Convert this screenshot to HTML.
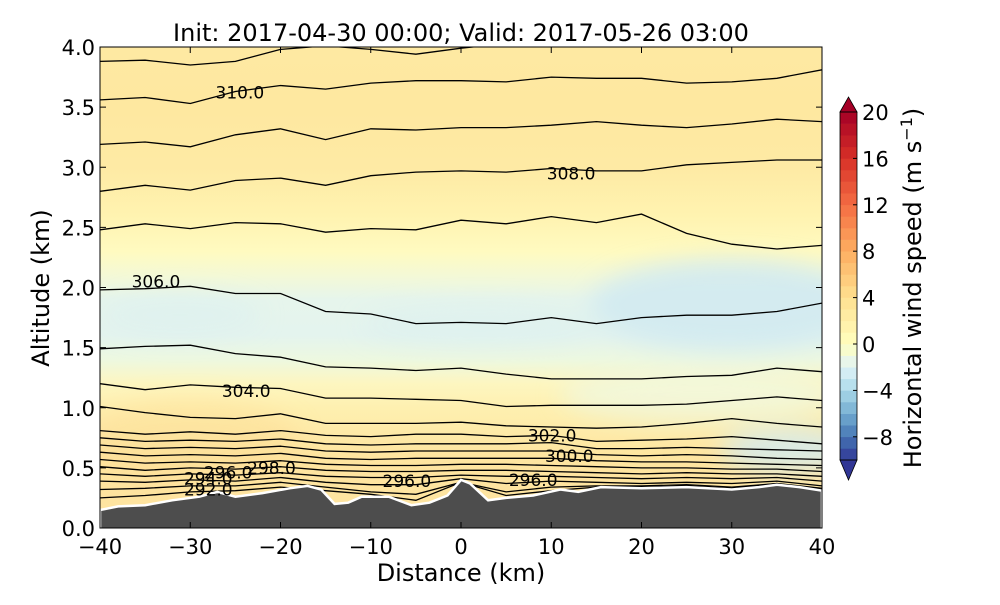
<!DOCTYPE html>
<html><head><meta charset="utf-8">
<style>
body{margin:0;background:#fff;width:1000px;height:600px;overflow:hidden}
svg{font-family:"DejaVu Sans","Liberation Sans",sans-serif}
</style></head>
<body>
<svg id="chart" width="1000" height="600" viewBox="0 0 1000 600">
<defs>
<linearGradient id="bg" x1="0" y1="47" x2="0" y2="528" gradientUnits="userSpaceOnUse">
<stop offset="0" stop-color="#fee9a2"/>
<stop offset="0.125" stop-color="#fee8a0"/>
<stop offset="0.25" stop-color="#feeaa4"/>
<stop offset="0.35" stop-color="#fff3b0"/>
<stop offset="0.425" stop-color="#fffac0"/>
<stop offset="0.475" stop-color="#f4f9d6"/>
<stop offset="0.525" stop-color="#e6f5ec"/>
<stop offset="0.6" stop-color="#e4f4ee"/>
<stop offset="0.65" stop-color="#edf8e0"/>
<stop offset="0.7" stop-color="#fdf6c0"/>
<stop offset="0.75" stop-color="#fef0b0"/>
<stop offset="0.85" stop-color="#fee5a0"/>
<stop offset="1" stop-color="#fee3a0"/>
</linearGradient>
<filter id="soft" x="-30%" y="-50%" width="160%" height="200%"><feGaussianBlur stdDeviation="12"/></filter>
<clipPath id="plotclip"><rect x="100" y="47" width="722" height="481"/></clipPath>
</defs>
<g clip-path="url(#plotclip)">
<rect x="100" y="47" width="722" height="481" fill="url(#bg)"/>
<g filter="url(#soft)">
<ellipse cx="730" cy="305" rx="140" ry="45" fill="#d2eaf1" opacity="0.9"/>
<ellipse cx="480" cy="325" rx="120" ry="20" fill="#dcf0f0" opacity="0.6"/>
<ellipse cx="180" cy="315" rx="80" ry="20" fill="#dcf0f0" opacity="0.6"/>
<ellipse cx="790" cy="450" rx="70" ry="22" fill="#d4ebf0" opacity="0.85"/>
<ellipse cx="700" cy="395" rx="140" ry="28" fill="#eef8e4" opacity="0.7"/>
<ellipse cx="190" cy="440" rx="110" ry="40" fill="#fddc94" opacity="0.45"/>
</g>
<g id="contours"></g>
<g id="terrain"></g>
<g id="labels"></g>
</g>
<rect x="100" y="47" width="722" height="481" fill="none" stroke="#000" stroke-width="1"/>
<g id="axes"></g>
<text x="461" y="41" font-size="24" text-anchor="middle">Init: 2017-04-30 00:00; Valid: 2017-05-26 03:00</text>
<text x="461" y="581" font-size="24" text-anchor="middle">Distance (km)</text>
<text x="0" y="0" font-size="24" text-anchor="middle" transform="translate(49,288) rotate(-90)">Altitude (km)</text>
<g id="cbar"></g>
<text x="0" y="0" font-size="24" text-anchor="middle" transform="translate(921,288) rotate(-90)">Horizontal wind speed (m s<tspan dy="-9" font-size="16">−1</tspan><tspan dy="9">)</tspan></text>
</svg>
<script>
const NS="http://www.w3.org/2000/svg";
const xDist=[-40,-35,-30,-25,-20,-15,-10,-5,0,5,10,15,20,25,30,35,40];
const contourAlts=[
[3.88,3.89,3.85,3.88,3.98,4.01,3.98,3.94,3.99,4.03,4.05,4.05,4.05,4.05,4.05,4.05,4.05],
[3.56,3.58,3.53,3.63,3.68,3.65,3.70,3.72,3.72,3.71,3.75,3.74,3.74,3.70,3.71,3.74,3.81],
[3.19,3.21,3.17,3.27,3.32,3.23,3.32,3.31,3.33,3.33,3.35,3.38,3.35,3.33,3.36,3.40,3.38],
[2.80,2.85,2.81,2.89,2.91,2.85,2.93,2.96,2.97,2.96,2.99,2.97,2.97,3.02,3.04,3.06,3.06],
[2.48,2.53,2.49,2.54,2.53,2.46,2.49,2.48,2.56,2.53,2.59,2.54,2.61,2.45,2.36,2.32,2.35],
[1.98,1.99,2.01,1.95,1.95,1.80,1.78,1.70,1.71,1.70,1.75,1.70,1.75,1.77,1.77,1.80,1.87],
[1.49,1.51,1.52,1.45,1.42,1.34,1.33,1.31,1.33,1.28,1.24,1.24,1.24,1.26,1.27,1.33,1.30],
[1.20,1.15,1.19,1.17,1.16,1.08,1.08,1.07,1.06,1.01,1.02,1.02,1.02,1.03,1.06,1.09,1.06],
[1.01,0.96,0.92,0.91,0.95,0.87,0.87,0.87,0.88,0.85,0.84,0.83,0.84,0.87,0.91,0.87,0.84],
[0.81,0.78,0.80,0.78,0.81,0.77,0.76,0.78,0.78,0.76,0.77,0.72,0.73,0.74,0.76,0.73,0.70],
[0.75,0.72,0.73,0.72,0.74,0.70,0.69,0.70,0.70,0.70,0.71,0.66,0.66,0.67,0.66,0.65,0.64],
[0.69,0.66,0.67,0.66,0.68,0.64,0.63,0.64,0.64,0.64,0.64,0.61,0.60,0.61,0.60,0.58,0.57],
[0.63,0.60,0.61,0.60,0.62,0.58,0.57,0.58,0.58,0.58,0.58,0.56,0.55,0.55,0.54,0.53,0.52],
[0.57,0.54,0.55,0.54,0.56,0.53,0.52,0.52,0.53,0.53,0.52,0.51,0.50,0.50,0.49,0.49,0.47],
[0.51,0.48,0.50,0.49,0.51,0.48,0.47,0.47,0.48,0.48,0.47,0.46,0.45,0.46,0.45,0.45,0.43],
[0.45,0.43,0.45,0.44,0.46,0.43,0.42,0.42,0.44,0.43,0.43,0.42,0.41,0.42,0.41,0.42,0.39],
[0.39,0.38,0.40,0.39,0.42,0.38,0.36,0.36,0.41,0.37,0.39,0.38,0.37,0.38,0.37,0.39,0.35],
[0.32,0.33,0.35,0.35,0.38,0.34,0.30,0.28,0.38,0.30,0.34,0.35,0.35,0.36,0.34,0.37,0.33],
[0.25,0.27,0.30,0.31,0.34,0.31,0.28,0.23,0.38,0.27,0.31,0.34,0.34,0.35,0.33,0.37,0.32]
];
const terrainDist=[-40,-38,-35,-32,-29,-27,-25,-22,-19,-17,-15.5,-14,-12.5,-11,-8,-5.5,-3.5,-1.5,0,1,3,5,8,11,13,15.5,20,25,30,33,35,37.5,40];
const terrainAlt=[0.15,0.18,0.19,0.23,0.26,0.30,0.26,0.29,0.33,0.35,0.32,0.20,0.21,0.26,0.26,0.19,0.21,0.27,0.40,0.37,0.23,0.25,0.27,0.32,0.30,0.34,0.33,0.34,0.32,0.34,0.36,0.34,0.31];
const labelText=["310.0","308.0","306.0","304.0","302.0","300.0","298.0","296.0","296.0","296.0","294.0","292.0"];
const labelDist=[-24.5,12.2,-33.8,-23.8,10.1,12.0,-21.0,-25.8,-6.0,8.0,-28.0,-28.0];
const labelAlt=[3.62,2.95,2.05,1.14,0.77,0.60,0.50,0.46,0.39,0.40,0.41,0.32];
const xTicks=[-40,-30,-20,-10,0,10,20,30,40];
const yTicks=[0.0,0.5,1.0,1.5,2.0,2.5,3.0,3.5,4.0];
const cbarTicks=[20,16,12,8,4,0,-4,-8];

const X=d=>461+d*9.025, Y=a=>528-a*120.25;
const cg=document.getElementById('contours');
contourAlts.forEach((arr,i)=>{
  const p=document.createElementNS(NS,'polyline');
  p.setAttribute('points',arr.map((a,j)=>X(xDist[j]).toFixed(1)+','+Y(a).toFixed(1)).join(' '));
  p.setAttribute('fill','none');p.setAttribute('stroke','#000');p.setAttribute('stroke-width','1.3');
  
  
  cg.appendChild(p);
});
const tg=document.getElementById('terrain');
let pts=terrainDist.map((d,i)=>X(d).toFixed(1)+','+Y(terrainAlt[i]).toFixed(1));
const tp=document.createElementNS(NS,'polygon');
tp.setAttribute('points',[X(-40)+','+540].concat(pts,[X(40)+','+540]).join(' '));
tp.setAttribute('fill','#4d4d4d');tp.setAttribute('stroke','#fff');tp.setAttribute('stroke-width','2.5');


tg.appendChild(tp);
const lg=document.getElementById('labels');
labelText.forEach((t,i)=>{
  const e=document.createElementNS(NS,'text');
  e.setAttribute('x',X(labelDist[i]));e.setAttribute('y',Y(labelAlt[i])+6);
  e.setAttribute('font-size','17');e.setAttribute('text-anchor','middle');
  e.textContent=t;
  
  
  lg.appendChild(e);
});
const ax=document.getElementById('axes');
function ln(x1,y1,x2,y2,g){const l=document.createElementNS(NS,'line');l.setAttribute('x1',x1);l.setAttribute('y1',y1);l.setAttribute('x2',x2);l.setAttribute('y2',y2);l.setAttribute('stroke','#000');l.setAttribute('stroke-width','1');g.appendChild(l);return l;}
function tx(x,y,s,anchor,g,size){const e=document.createElementNS(NS,'text');e.setAttribute('x',x);e.setAttribute('y',y);e.setAttribute('font-size',size||21);e.setAttribute('text-anchor',anchor);e.textContent=s;g.appendChild(e);return e;}
xTicks.forEach(v=>{
  const x=X(v);ln(x,528,x,522,ax);ln(x,47,x,53,ax);
  const e=tx(x,554,v<0?'−'+Math.abs(v):String(v),'middle',ax);
  
  
});
yTicks.forEach(v=>{
  const y=Y(v);ln(100,y,106,y,ax);ln(822,y,816,y,ax);
  const e=tx(95,y+8,v.toFixed(1),'end',ax);
  
  
});
const cb=document.getElementById('cbar');
const cm=[[49,54,149],[69,117,180],[116,173,209],[171,217,233],[224,243,248],[255,255,191],[254,224,144],[253,174,97],[244,109,67],[215,48,39],[165,0,38]];
function col(t){t=Math.max(0,Math.min(1,t))*10;const i=Math.min(9,Math.floor(t)),f=t-i;const a=cm[i],b=cm[i+1];return 'rgb('+a.map((c,k)=>Math.round(c+(b[k]-c)*f)).join(',')+')';}
const V=v=>344-v*11.6, CX=840, CW=17;
for(let v=-10;v<20;v++){
  const m=v+0.5, t=m<0?0.5+m/20:0.5+m/40;
  const r=document.createElementNS(NS,'rect');
  r.setAttribute('x',CX);r.setAttribute('y',V(v+1));r.setAttribute('width',CW);r.setAttribute('height',11.9);r.setAttribute('fill',col(t));
  cb.appendChild(r);
}
const up=document.createElementNS(NS,'polygon');up.setAttribute('points',`${CX},${V(20)} ${CX+CW/2},97 ${CX+CW},${V(20)}`);up.setAttribute('fill','#a50026');up.setAttribute('stroke','#000');up.setAttribute('stroke-width','0.8');cb.appendChild(up);
const dn=document.createElementNS(NS,'polygon');dn.setAttribute('points',`${CX},${V(-10)} ${CX+CW/2},480 ${CX+CW},${V(-10)}`);dn.setAttribute('fill','#313695');dn.setAttribute('stroke','#000');dn.setAttribute('stroke-width','0.8');cb.appendChild(dn);
const fr=document.createElementNS(NS,'rect');fr.setAttribute('x',CX);fr.setAttribute('y',V(20));fr.setAttribute('width',CW);fr.setAttribute('height',V(-10)-V(20));fr.setAttribute('fill','none');fr.setAttribute('stroke','#000');fr.setAttribute('stroke-width','0.8');cb.appendChild(fr);
cbarTicks.forEach(v=>{
  const y=V(v);ln(CX+CW-4,y,CX+CW,y,cb);
  const e=tx(862,y+8,v<0?'−'+Math.abs(v):String(v),'start',cb);
  
  
});
</script>
</body></html>
